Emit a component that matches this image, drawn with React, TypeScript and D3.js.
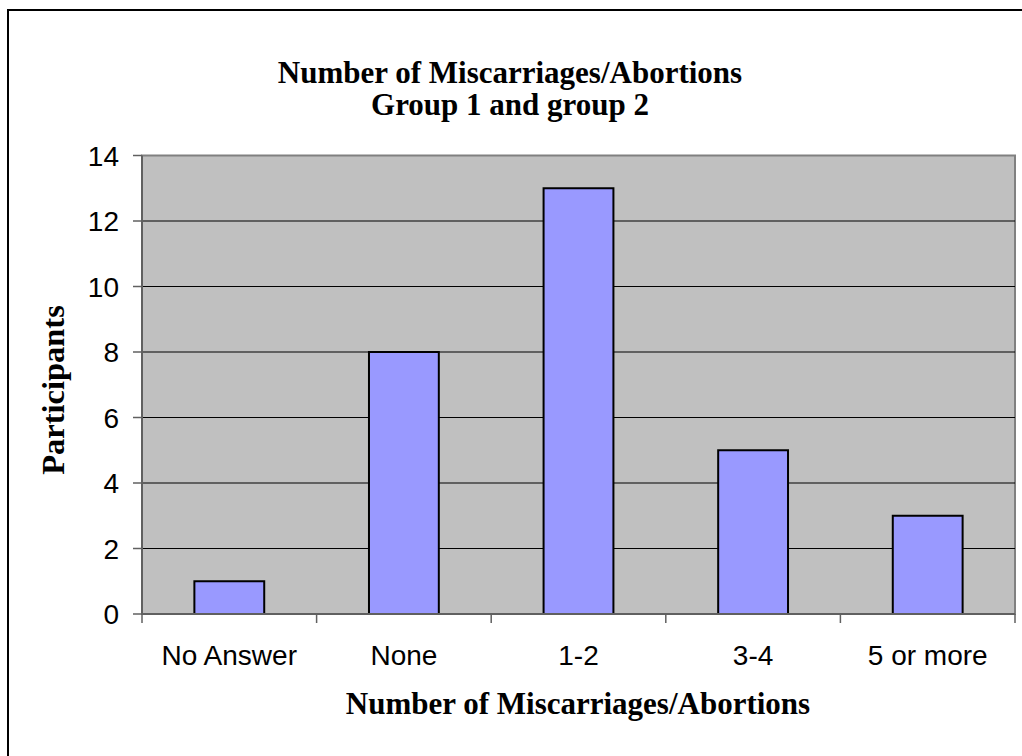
import React from "react";
import * as d3 from "d3";

const categories = ["No Answer", "None", "1-2", "3-4", "5 or more"];
const values = [1, 8, 13, 5, 3];
const yTicks = [0, 2, 4, 6, 8, 10, 12, 14];
const titleLines = ["Number of Miscarriages/Abortions", "Group 1 and group 2"];
const xTitle = "Number of Miscarriages/Abortions";
const yTitle = "Participants";

export default function App() {
  const W = 1022, H = 756;
  const left = 142, right = 1015, top = 155.5, bottom = 614;
  const x = d3.scaleBand<string>().domain(categories).range([left, right]).paddingInner(0.6).paddingOuter(0.3);
  const xb = d3.scaleBand<string>().domain(categories).range([left, right]);
  const y = d3.scaleLinear().domain([0, 14]).range([bottom, top]);
  const serif = "'Liberation Serif', 'Times New Roman', serif";
  const sans = "'Liberation Sans', Arial, sans-serif";
  return (
    <svg width={W} height={H} style={{ position: "absolute", left: 0, top: 0, display: "block" }}>
      <rect x={0} y={0} width={W} height={H} fill="#fff" />
      <rect x={8} y={10} width={1040} height={780} fill="#fff" stroke="#000" strokeWidth={2} />
      {/* plot area */}
      <rect x={left} y={top} width={right - left} height={bottom - top} fill="#C0C0C0" stroke="#808080" strokeWidth={2} />
      {yTicks.filter(t => t > 0 && t < 14).map(t => (
        <line key={t} x1={left} x2={right} y1={y(t)} y2={y(t)} stroke="#000" strokeWidth={1} />
      ))}
      {/* bars */}
      {categories.map((c, i) => (
        <rect key={c} x={x(c)} y={y(values[i])} width={x.bandwidth()} height={y(0) - y(values[i])}
          fill="#9999FF" stroke="#000" strokeWidth={2} />
      ))}
      {/* axes */}
      <line x1={left} x2={left} y1={top} y2={bottom + 1} stroke="#606060" strokeWidth={2} />
      <line x1={left} x2={right} y1={bottom} y2={bottom} stroke="#606060" strokeWidth={2} />
      {yTicks.map(t => (
        <g key={t}>
          <line x1={left - 9} x2={left} y1={y(t)} y2={y(t)} stroke="#606060" strokeWidth={1.5} />
          <text x={119} y={y(t)} dy="0.36em" textAnchor="end" fontFamily={sans} fontSize={28} fill="#000">{t}</text>
        </g>
      ))}
      {categories.map((c) => (
        <line key={"t" + c} x1={xb(c)} x2={xb(c)} y1={bottom} y2={bottom + 9} stroke="#606060" strokeWidth={1.5} />
      ))}
      <line x1={right} x2={right} y1={bottom} y2={bottom + 9} stroke="#606060" strokeWidth={1.5} />
      {categories.map(c => (
        <text key={"l" + c} x={(xb(c) as number) + xb.bandwidth() / 2} y={665} textAnchor="middle"
          fontFamily={sans} fontSize={28} fill="#000">{c}</text>
      ))}
      {/* titles */}
      {titleLines.map((t, i) => (
        <text key={t} x={510} y={83 + i * 32} textAnchor="middle" fontFamily={serif} fontWeight="bold" fontSize={31} fill="#000">{t}</text>
      ))}
      <text x={578} y={714} textAnchor="middle" fontFamily={serif} fontWeight="bold" fontSize={31} fill="#000">{xTitle}</text>
      <text transform={`translate(64,390) rotate(-90)`} textAnchor="middle" fontFamily={serif} fontWeight="bold" fontSize={32.5} fill="#000">{yTitle}</text>
    </svg>
  );
}
